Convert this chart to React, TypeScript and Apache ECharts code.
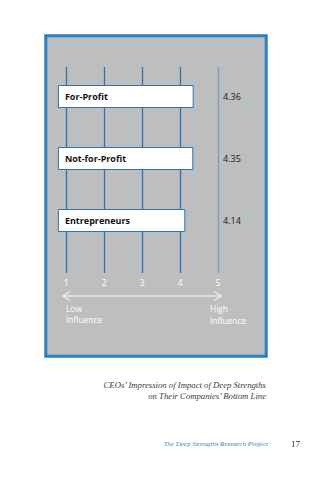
import React, { useEffect, useRef } from "react";
import * as echarts from "echarts";

const categories = ["For-Profit", "Not-for-Profit", "Entrepreneurs"];
const scores = [4.36, 4.35, 4.14];
const tickValues = [1, 2, 3, 4, 5];
const lowLabel = ["Low", "Influence"];
const highLabel = ["High", "Influence"];
const captionLines = [
  "CEOs’ Impression of Impact of Deep Strengths",
  "on Their Companies’ Bottom Line",
];
const footerTitle = "The Deep Strengths Research Project";
const pageNumber = "17";

const SANS = "'Open Sans', 'Noto Sans', sans-serif";
const SERIF = "'Liberation Serif', 'DejaVu Serif', serif";
const BLUE = "#2f72ad";

export default function App() {
  const ref = useRef<HTMLDivElement>(null);
  useEffect(() => {
    if (!ref.current) return;
    const chart = echarts.init(ref.current, null, { renderer: "svg" });
    const left = 66;
    const right = 312 - 218;
    const whiteText = (text: string, x: number, y: number) => ({
      type: "text",
      x,
      y,
      style: {
        text,
        fill: "#ffffff",
        font: `8.4px ${SANS}`,
        lineHeight: 9,
        textVerticalAlign: "middle",
      },
    });
    chart.setOption({
      animation: false,
      backgroundColor: "#ffffff",
      grid: [
        { left, right, top: 67, bottom: 480 - 273 },
        { left: 58.4, right, top: 65.5, bottom: 480 - 251.5 },
      ],
      xAxis: [
        {
          gridIndex: 0,
          type: "value",
          min: tickValues[0],
          max: tickValues[tickValues.length - 1],
          interval: 1,
          axisLine: { show: false },
          axisTick: { show: false },
          axisLabel: {
            color: "#ffffff",
            fontSize: 9,
            fontFamily: SANS,
            margin: 5,
          },
          splitLine: {
            show: true,
            lineStyle: {
              color: [BLUE, BLUE, BLUE, BLUE, "#6c9fcc"],
              width: 1.3,
            },
          },
        },
        {
          gridIndex: 1,
          type: "value",
          min: 0.8,
          max: tickValues[tickValues.length - 1],
          show: false,
          splitLine: { show: false },
        },
      ],
      yAxis: [
        {
          gridIndex: 0,
          type: "category",
          data: categories,
          show: false,
        },
        {
          gridIndex: 1,
          type: "category",
          data: categories,
          inverse: true,
          position: "right",
          axisLine: { show: false },
          axisTick: { show: false },
          splitLine: { show: false },
          axisLabel: {
            align: "left",
            margin: 5,
            color: "#1a1a1a",
            fontSize: 9,
            fontFamily: SANS,
            formatter: (_v: string, i: number) => scores[i].toFixed(2),
          },
        },
      ],
      series: [
        {
          type: "bar",
          xAxisIndex: 1,
          yAxisIndex: 1,
          data: scores,
          barWidth: 23,
          itemStyle: {
            color: "#ffffff",
            borderColor: BLUE,
            borderWidth: 1,
          },
          label: {
            show: true,
            position: "insideLeft",
            distance: 7,
            formatter: (p: any) => categories[p.dataIndex],
            color: "#111111",
            fontSize: 9,
            fontWeight: "bold",
            fontFamily: SANS,
          },
        },
      ],
      graphic: [
        {
          type: "rect",
          z: -10,
          shape: { x: 45.8, y: 35.8, width: 220.4, height: 320.4 },
          style: { fill: "#bdbec0", stroke: "#2a7fc0", lineWidth: 3 },
        },
        {
          type: "line",
          shape: { x1: 63, y1: 296, x2: 221, y2: 296 },
          style: { stroke: "#ffffff", lineWidth: 1 },
        },
        {
          type: "polyline",
          shape: { points: [[70, 291.5], [62.5, 296], [70, 300.5]] },
          style: { stroke: "#ffffff", lineWidth: 1, fill: null },
        },
        {
          type: "polyline",
          shape: { points: [[214, 291.5], [221.5, 296], [214, 300.5]] },
          style: { stroke: "#ffffff", lineWidth: 1, fill: null },
        },
        whiteText(lowLabel[0], 66, 308),
        whiteText(lowLabel[1], 66, 319.5),
        whiteText(highLabel[0], 210, 308.5),
        whiteText(highLabel[1], 210, 320),
        {
          type: "text",
          x: 266,
          y: 385,
          style: {
            text: captionLines[0],
            fill: "#3a3a3a",
            font: `italic 8.7px ${SERIF}`,
            align: "right",
            lineHeight: 9,
            textVerticalAlign: "middle",
          },
        },
        {
          type: "text",
          x: 266,
          y: 396,
          style: {
            text: captionLines[1],
            fill: "#3a3a3a",
            font: `italic 8.7px ${SERIF}`,
            align: "right",
            lineHeight: 9,
            textVerticalAlign: "middle",
          },
        },
        {
          type: "text",
          x: 268,
          y: 444,
          style: {
            text: footerTitle,
            fill: "#3a86c4",
            font: `italic 7px ${SERIF}`,
            align: "right",
            textVerticalAlign: "middle",
          },
        },
        {
          type: "text",
          x: 291,
          y: 444,
          style: {
            text: pageNumber,
            fill: "#222222",
            font: `9px ${SERIF}`,
            textVerticalAlign: "middle",
          },
        },
      ],
    });
    return () => chart.dispose();
  }, []);
  return <div ref={ref} style={{ width: 312, height: 480, position: "absolute", left: 0, top: 0 }} />;
}
